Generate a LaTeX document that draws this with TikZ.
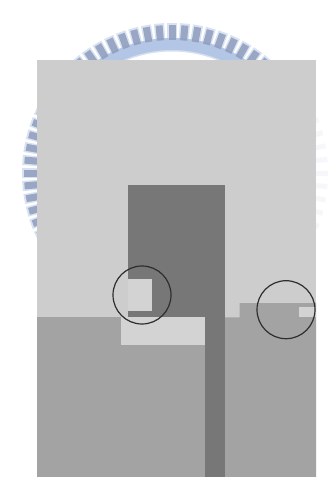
\documentclass[tikz,border=0pt]{standalone}
\usetikzlibrary{calc}
\definecolor{lightfill}{HTML}{CDCDCD}
\definecolor{barfill}{HTML}{D3D3D3}
\definecolor{midfill}{HTML}{A3A3A3}
\definecolor{darkfill}{HTML}{777777}
\definecolor{ringblue}{HTML}{B4C6E6}
\definecolor{toothgrey}{HTML}{8E9CBC}
\tikzset{
  plate/.style={fill=#1,draw=none},
  lens/.style={draw=black!82,line width=1.2pt},
  tooth/.style={line width=7pt,draw=toothgrey,opacity=0.85},
  toothsoft/.style={line width=10pt,draw=ringblue,opacity=0.5}
}
\begin{document}
\begin{tikzpicture}[x=1pt,y=-1pt]
\useasboundingbox (0,0) rectangle (331,477);
\fill[white] (0,0) rectangle (331,477);
% watermark ring
\coordinate (hub) at (172,173);
\draw[ringblue!55,line width=3pt] (hub) circle (123);
\draw[ringblue,line width=12pt] (hub) circle (129);
\foreach \a in {-135,-130,...,-45,150,155,...,210} {
  \draw[toothsoft] ($(hub)+(\a:130)$) -- ($(hub)+(\a:150)$);
  \draw[tooth] ($(hub)+(\a:133)$) -- ($(hub)+(\a:148)$);
}
\foreach \a in {-20,-15,...,20} {
  \draw[line width=5pt,draw=ringblue,opacity=0.13] ($(hub)+(\a:143)$) -- ($(hub)+(\a:156)$);
}
% plates
\fill[plate=lightfill] (37,60) rectangle (316,477);
\fill[plate=midfill] (37,317.3) rectangle (215,477);
\fill[plate=midfill] (215,317.3) -- (239.6,317.3) -- (239.6,303) -- (316,303) -- (316,477) -- (215,477) -- cycle;
\fill[plate=darkfill] (127.5,185) rectangle (225.3,317.5);
\fill[plate=darkfill] (205,317) rectangle (225.3,477);
\fill[plate=barfill] (120.7,317.3) rectangle (204.7,345);
\fill[plate=barfill] (127.5,279) rectangle (152.3,310.5);
\fill[plate=barfill] (298.7,306.7) rectangle (316,317.3);
% circles
\node[lens,circle,minimum size=58pt,inner sep=0pt] (lensleft) at (142,295) {};
\node[lens,circle,minimum size=58pt,inner sep=0pt] (lensright) at (286,309.7) {};
\end{tikzpicture}
\end{document}
